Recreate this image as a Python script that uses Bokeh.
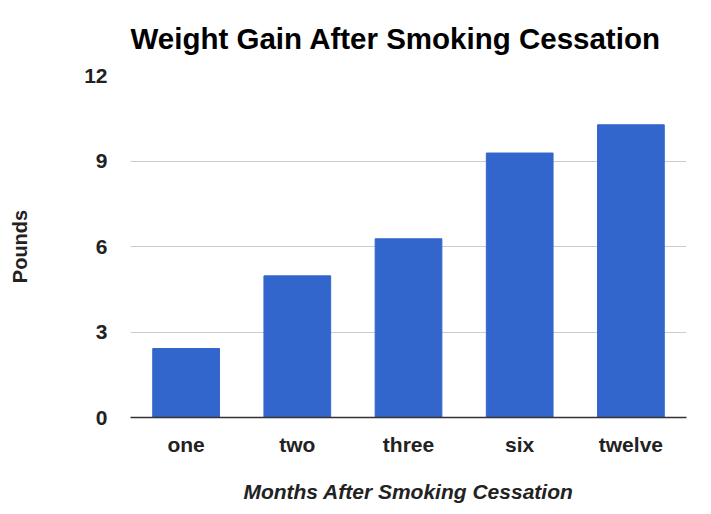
from bokeh.plotting import figure
from bokeh.models import FixedTicker, ColumnDataSource
from bokeh.embed import file_html
from bokeh.resources import INLINE

months = ["one", "two", "three", "six", "twelve"]
pounds = [2.42, 4.97, 6.27, 9.28, 10.27]
y_ticks = [0, 3, 6, 9, 12]
title_text = "Weight Gain After Smoking Cessation"

src = ColumnDataSource(data=dict(months=months, pounds=pounds))

p = figure(x_range=months, y_range=(0, 12), width=703, height=506,
           output_backend="svg", toolbar_location=None,
           min_border_left=130, min_border_right=17, min_border_top=75, min_border_bottom=89)
p.x_range.range_padding = 0
p.vbar(x="months", top="pounds", width=0.6, source=src, color="#3366cc")

p.title.text = title_text
p.title.text_font = "Liberation Sans"
p.title.text_font_size = "29.5px"
p.title.text_font_style = "bold"
p.title.text_color = "#000000"
p.title.align = "left"
p.title.offset = 0
p.title.standoff = 38
p.title.vertical_align = "top"

p.outline_line_color = None
p.xgrid.grid_line_color = None
p.ygrid.grid_line_color = "#cccccc"
p.ygrid.ticker = FixedTicker(ticks=y_ticks)

p.yaxis.ticker = FixedTicker(ticks=y_ticks)
p.yaxis.axis_line_color = None
p.yaxis.major_tick_line_color = None
p.yaxis.minor_tick_line_color = None
p.yaxis.major_tick_out = 0
p.yaxis.major_label_standoff = 23
p.yaxis.axis_label = "Pounds"
p.yaxis.axis_label_standoff = 50

p.xaxis.axis_line_color = "#333333"
p.xaxis.axis_line_width = 1.5
p.xaxis.major_tick_line_color = None
p.xaxis.minor_tick_line_color = None
p.xaxis.major_tick_out = 0
p.xaxis.major_label_standoff = 15
p.xaxis.axis_label = "Months After Smoking Cessation"
p.xaxis.axis_label_standoff = 21
p.xaxis.axis_label_text_font_style = "bold italic"

for ax in (p.xaxis, p.yaxis):
    ax.major_label_text_font = "Liberation Sans"
    ax.major_label_text_font_size = "21px"
    ax.major_label_text_font_style = "bold"
    ax.major_label_text_color = "#222222"
    ax.axis_label_text_font = "Liberation Sans"
    ax.axis_label_text_color = "#222222"
p.xaxis.axis_label_text_font_size = "21px"
p.yaxis.axis_label_text_font_size = "20px"
p.yaxis.axis_label_text_font_style = "bold"

open("out.html", "w").write(file_html(p, INLINE))
